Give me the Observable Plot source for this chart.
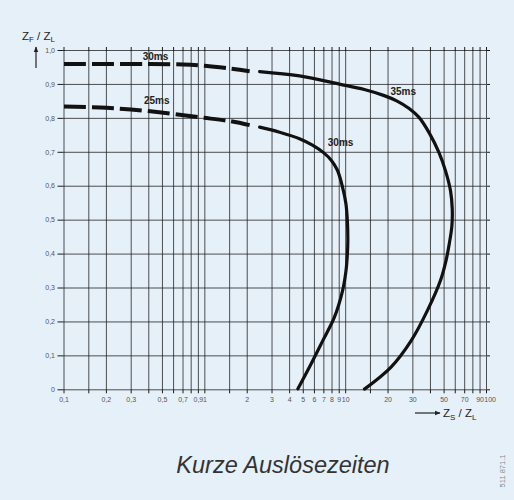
<!DOCTYPE html>
<html><head><meta charset="utf-8">
<script src="https://cdn.jsdelivr.net/npm/d3@7"></script>
<script src="https://cdn.jsdelivr.net/npm/@observablehq/plot@0.6"></script>
<style>
html,body{margin:0;padding:0;background:#e6f0f8;}
#chart svg{display:block;background:transparent;}
</style></head><body><div id="chart"></div>
<script>
// grid and tick values
const xGrid = [0.1,0.15,0.2,0.3,0.4,0.5,0.6,0.7,0.8,0.9,1,1.5,2,3,4,5,6,7,8,9,10,15,20,30,40,50,60,70,80,90,100];
const xLabels = [0.1,0.2,0.3,0.5,0.7,0.9,1,2,3,4,5,6,7,8,9,10,20,30,50,70,90];
const xLabelEnd = [100];
const yTicks = [0,0.1,0.2,0.3,0.4,0.5,0.6,0.7,0.8,0.9,1.0];

// outer curve: 30 ms (dashed) -> 35 ms (solid)
const outerDashX = [0.1, 0.2, 0.4, 0.7, 1.0, 1.5, 2.08];
const outerDashY = [0.96, 0.96, 0.96, 0.959, 0.955, 0.947, 0.939];
const outerSolidX = [2.45, 4.7, 9.02, 13.56, 18.78, 23.21, 28.22, 33.19, 39.1, 46.0, 51.1, 55.5, 57.1, 56.8, 54.6, 51.6, 47.1, 38.1, 29.2, 21.0, 13.6];
const outerSolidY = [0.938, 0.925, 0.901, 0.885, 0.867, 0.851, 0.829, 0.803, 0.758, 0.699, 0.646, 0.587, 0.534, 0.484, 0.434, 0.381, 0.322, 0.234, 0.145, 0.067, 0.002];

// inner curve: 25 ms (dashed) -> 30 ms (solid)
const innerDashX = [0.1, 0.2, 0.41, 0.92, 1.5, 2.08];
const innerDashY = [0.835, 0.831, 0.821, 0.803, 0.792, 0.78];
const innerSolidX = [2.45, 3.40, 4.70, 5.81, 6.96, 7.92, 8.74, 9.48, 10.03, 10.28, 10.36, 10.28, 10.06, 9.52, 8.32, 6.88, 5.69, 4.58];
const innerSolidY = [0.774, 0.759, 0.740, 0.721, 0.699, 0.676, 0.647, 0.599, 0.550, 0.499, 0.440, 0.399, 0.352, 0.293, 0.214, 0.145, 0.077, 0.003];

// curve labels
const labelText = ["30ms", "25ms", "35ms", "30ms"];
const labelX = [0.446, 0.455, 25.6, 9.2];
const labelY = [0.982, 0.853, 0.879, 0.728];

const toPts = (xs, ys) => xs.map((x, i) => ({x, y: ys[i]}));
const labels = labelText.map((t, i) => ({t, x: labelX[i], y: labelY[i]}));
const fmtX = d => String(d).replace(".", ",");
const fmtY = d => d === 0 ? "0" : d.toFixed(1).replace(".", ",");

const font = "'Liberation Sans', Arial, sans-serif";
const gridStyle = {stroke: "#1c1c1c", strokeOpacity: 0.85, strokeWidth: 0.9};
const tickText = {frameAnchor: "bottom", lineAnchor: "top", dy: 7, text: fmtX, fontSize: 7, fill: "#555"};

const plot = Plot.plot({
  width: 514,
  height: 500,
  marginLeft: 63.5,
  marginRight: 28,
  marginTop: 50,
  marginBottom: 110.7,
  style: {fontFamily: font, background: "transparent", color: "#555"},
  x: {type: "log", domain: [0.1, 100], axis: null, label: null},
  y: {domain: [0, 1], axis: null, label: null},
  marks: [
    Plot.gridX(xGrid, gridStyle),
    Plot.gridY(yTicks, gridStyle),
    Plot.axisX({ticks: xGrid, anchor: "bottom", label: null, tickSize: 4, stroke: "#1c1c1c", tickFormat: () => ""}),
    Plot.text(xLabels, {x: d => d, ...tickText}),
    Plot.text(xLabelEnd, {x: d => d, ...tickText, textAnchor: "start", dx: -2.2}),
    Plot.axisX({ticks: xGrid, anchor: "top", label: null, tickSize: 4, stroke: "#1c1c1c", tickFormat: () => ""}),
    Plot.axisY({ticks: yTicks, anchor: "left", label: null, tickSize: 6, tickPadding: 3, fontSize: 7, stroke: "#1c1c1c", tickFormat: fmtY}),
    Plot.axisY({ticks: yTicks, anchor: "right", label: null, tickSize: 3, stroke: "#1c1c1c", tickFormat: () => ""}),
    Plot.line(toPts(outerDashX, outerDashY), {x: "x", y: "y", curve: "catmull-rom", stroke: "#111", strokeWidth: 4, strokeDasharray: "22,6", strokeLinecap: "butt"}),
    Plot.line(toPts(innerDashX, innerDashY), {x: "x", y: "y", curve: "catmull-rom", stroke: "#111", strokeWidth: 4, strokeDasharray: "22,6", strokeLinecap: "butt"}),
    Plot.line(toPts(outerSolidX, outerSolidY), {x: "x", y: "y", curve: "catmull-rom", stroke: "#111", strokeWidth: 3.2}),
    Plot.line(toPts(innerSolidX, innerSolidY), {x: "x", y: "y", curve: "catmull-rom", stroke: "#111", strokeWidth: 3.2}),
    Plot.text(labels, {x: "x", y: "y", text: "t", fontSize: 10, fontWeight: "bold", fill: "#222", style: {letterSpacing: "0.6px"}})
  ]
});
document.getElementById("chart").appendChild(plot);

// titles and decorations
const svg = d3.select(plot);
const defs = svg.append("defs");
defs.append("marker").attr("id", "ah").attr("viewBox", "0 0 10 10").attr("refX", 9).attr("refY", 5)
  .attr("markerWidth", 6).attr("markerHeight", 6).attr("markerUnits", "userSpaceOnUse").attr("orient", "auto")
  .append("path").attr("d", "M0,1L10,5L0,9Z").attr("fill", "#222");

function subTitle(x, y, a, sa, b, sb) {
  const t = svg.append("text").attr("x", x).attr("y", y).attr("text-anchor", "start")
    .attr("font-family", font).attr("font-size", 11.5).attr("fill", "#222");
  t.append("tspan").text(a);
  t.append("tspan").attr("font-size", 8).attr("dy", 2.5).text(sa);
  t.append("tspan").attr("dy", -2.5).text(" / " + b);
  t.append("tspan").attr("font-size", 8).attr("dy", 2.5).text(sb);
}
subTitle(22, 39.5, "Z", "F", "Z", "L");
svg.append("line").attr("x1", 36).attr("x2", 36).attr("y1", 68).attr("y2", 47).attr("stroke", "#222").attr("stroke-width", 1.2).attr("marker-end", "url(#ah)");
svg.append("line").attr("x1", 415).attr("x2", 440).attr("y1", 413).attr("y2", 413).attr("stroke", "#222").attr("stroke-width", 1.2).attr("marker-end", "url(#ah)");
subTitle(443, 417, "Z", "S", "Z", "L");

svg.append("text").attr("x", 283).attr("y", 473).attr("text-anchor", "middle")
  .attr("font-family", font).attr("font-style", "italic").attr("font-size", 23.5).attr("fill", "#333")
  .text("Kurze Auslösezeiten");
svg.append("text").attr("transform", "translate(505,471) rotate(-90)").attr("text-anchor", "middle")
  .attr("font-family", font).attr("font-size", 7.5).attr("fill", "#8a8a8a").text("511 871.1");
</script></body></html>
